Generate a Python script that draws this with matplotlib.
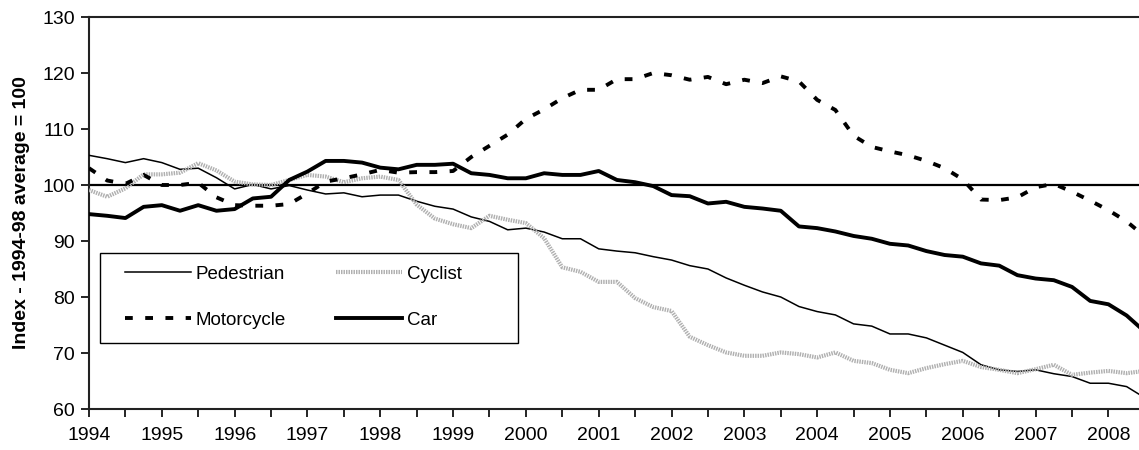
# road casualty index plot

from matplotlib.pyplot import subplots, rcParams
from matplotlib.patches import Rectangle
from matplotlib.ticker import MultipleLocator, NullFormatter
import numpy as n

rcParams['font.family'] = ['Liberation Sans', 'DejaVu Sans']

## data (quarterly, 1994 Q1 onwards)
yr_st = 1994.
qtr = .25

pedestrian = [105.3, 104.7, 104.0, 104.7, 104.0, 102.8, 103.0, 101.3, 99.3, 100.1,
			  99.3, 99.9, 99.1, 98.4, 98.6, 97.9, 98.2, 98.2, 97.1, 96.2,
			  95.7, 94.3, 93.5, 92.0, 92.3, 91.6, 90.4, 90.4, 88.6, 88.2,
			  87.9, 87.2, 86.6, 85.6, 85.0, 83.4, 82.1, 80.9, 80.0, 78.3,
			  77.4, 76.8, 75.2, 74.8, 73.4, 73.4, 72.7, 71.4, 70.1, 67.9,
			  67.0, 66.7, 67.0, 66.3, 65.8, 64.6, 64.6, 64.0, 62.0]

cyclist = [99.1, 97.9, 99.4, 101.9, 101.9, 102.2, 103.9, 102.6, 100.6, 100.1,
		   100.0, 100.9, 101.8, 101.5, 100.5, 101.2, 101.5, 100.9, 96.5, 94.0,
		   93.0, 92.3, 94.5, 93.8, 93.2, 90.5, 85.3, 84.5, 82.7, 82.7,
		   79.8, 78.2, 77.5, 72.9, 71.4, 70.1, 69.5, 69.5, 70.1, 69.8,
		   69.2, 70.1, 68.6, 68.2, 67.0, 66.4, 67.3, 68.0, 68.6, 67.5,
		   67.0, 66.4, 67.1, 67.9, 66.1, 66.5, 66.8, 66.4, 66.8]

motorcycle = [103.0, 100.8, 100.2, 101.8, 100.0, 100.0, 100.4, 97.8, 96.4, 96.3,
			  96.3, 96.6, 98.5, 100.6, 101.2, 101.9, 102.7, 102.2, 102.3, 102.3,
			  102.5, 105.0, 107.0, 109.0, 111.8, 113.5, 115.5, 117.0, 117.0, 118.9,
			  118.9, 120.0, 119.6, 118.8, 119.3, 118.0, 118.8, 118.2, 119.4, 118.5,
			  115.2, 113.4, 108.8, 106.8, 106.0, 105.3, 104.3, 103.0, 101.0, 97.4,
			  97.3, 97.8, 99.6, 100.2, 98.8, 97.2, 95.5, 93.5, 90.8]

car = [94.8, 94.5, 94.1, 96.1, 96.4, 95.4, 96.4, 95.4, 95.7, 97.6,
	   97.9, 100.9, 102.4, 104.3, 104.3, 104.0, 103.1, 102.8, 103.6, 103.6,
	   103.8, 102.1, 101.8, 101.2, 101.2, 102.1, 101.8, 101.8, 102.5, 100.9,
	   100.5, 99.8, 98.2, 98.0, 96.7, 97.0, 96.1, 95.8, 95.4, 92.6,
	   92.3, 91.7, 90.9, 90.4, 89.5, 89.2, 88.2, 87.5, 87.2, 86.0,
	   85.6, 83.9, 83.3, 83.0, 81.8, 79.3, 78.7, 76.7, 73.8]

yr_lab = list(range(1994, 2009))
ref_val = 100.

## parameter
fs = 14.
x = yr_st + qtr*n.arange(len(car))

## plot
fig, ax = subplots(figsize=(11.39,4.5),dpi=100.)
ax.set_position([89/1139, 41/450, 1050/1139, 392/450])

ax.axhline(ref_val, color='k', lw=1.6, zorder=2)

l_pd, = ax.plot(x, pedestrian, color='k', lw=1.1, label='Pedestrian', zorder=3)
l_cy, = ax.plot(x, cyclist, color='#b0b0b0', lw=3.0, ls=(0,(.35,.25)), label='Cyclist', zorder=3)
l_mc, = ax.plot(x, motorcycle, color='k', lw=2.8, ls=(0,(2.0,3.2)), label='Motorcycle', zorder=3)
l_car, = ax.plot(x, car, color='k', lw=2.8, label='Car', zorder=3)

## axis
ax.set(xlim=(yr_st, 2008.42), ylim=(60, 130))
ax.set_xticks(yr_lab)
ax.set_xticklabels([str(_y) for _y in yr_lab])
ax.xaxis.set_minor_locator(MultipleLocator(.5))
ax.xaxis.set_minor_formatter(NullFormatter())
ax.yaxis.set_major_locator(MultipleLocator(10))

ax.tick_params(which='both', direction='out', length=6., width=1.2, color='k', labelsize=fs, pad=4)
ax.tick_params(axis='x', which='both', pad=7)
ax.tick_params(axis='y', which='minor', left=False)

for _s in ['left','bottom','top']:
	ax.spines[_s].set_linewidth(1.5)
	ax.spines[_s].set_color('#222222')
ax.spines['right'].set_visible(False)

ax.set_ylabel('Index - 1994-98 average = 100', fontsize=fs, fontweight='bold', labelpad=9)

## legend with a square box (row order: Pedestrian, Cyclist / Motorcycle, Car)
ax.add_patch(Rectangle((.0105,.168), .3985, .230, transform=ax.transAxes,
					   fc='white', ec='k', lw=1., zorder=4))
lg = ax.legend(handles=[l_pd, l_mc, l_cy, l_car], ncol=2, loc='upper left',
			   bbox_to_anchor=(.0343,.366), frameon=False,
			   fontsize=13.5, handlelength=3.5, handletextpad=.25, columnspacing=2.7,
			   labelspacing=1.55, borderpad=0., borderaxespad=0.)
lg.set_zorder(5)

fig.savefig('out.png')
